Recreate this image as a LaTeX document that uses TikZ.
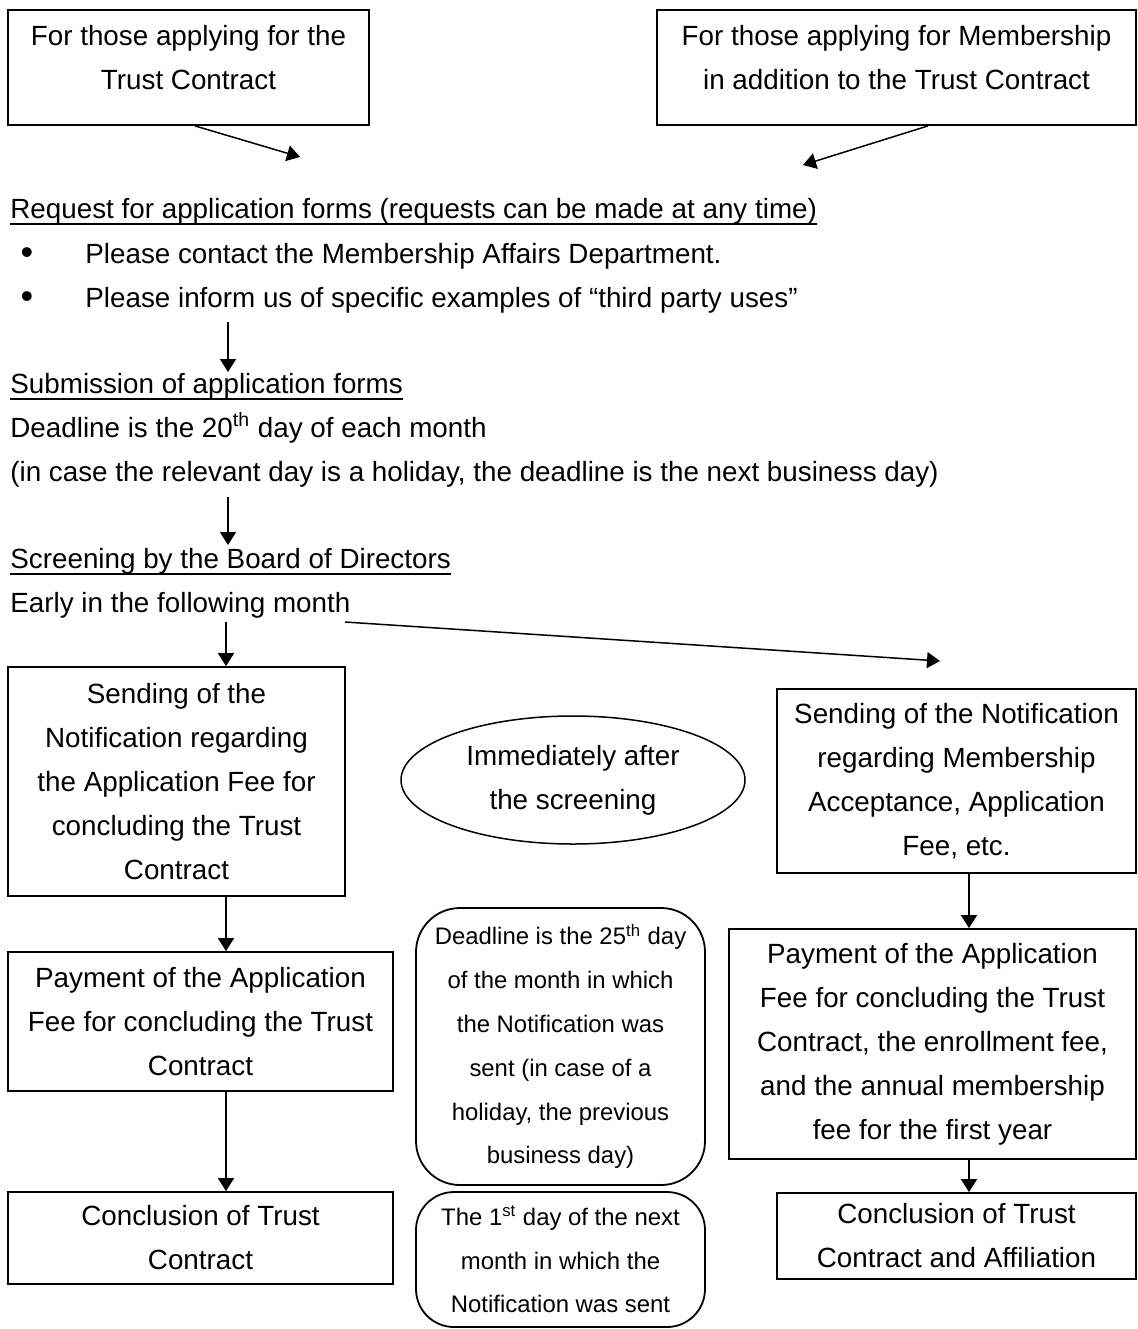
\documentclass[tikz,border=0pt]{standalone}
\usepackage{fontspec}
\setmainfont{Liberation Sans}
\usetikzlibrary{arrows.meta,shapes.geometric}
\newcommand\ulx[1]{\setbox0\hbox{#1}\rlap{\rule[-3.4pt]{\wd0}{1pt}}\box0}
\tikzset{
  basefont/.style={font=\fontsize{13.9pt}{22pt}\selectfont, inner sep=0pt},
  box/.style={basefont, draw, line width=0.9pt, align=center},
  rbox/.style={draw, line width=0.9pt, align=center, inner sep=0pt,
    font=\fontsize{11.95pt}{21.9pt}\selectfont},
  txt/.style={basefont, anchor=base west},
  bul/.style={font=\fontsize{18pt}{22pt}\selectfont, inner sep=0pt, anchor=base},
  arr/.style={line width=0.75pt, -{Triangle[length=6.5pt,width=8pt]}},
}
\begin{document}
\begin{tikzpicture}[x=0.5pt,y=-0.5pt]
\fill[white] (0,0) rectangle (1137,1329);
\useasboundingbox (0,0) rectangle (1137,1329);

% top boxes
\node[box, minimum width=180.5pt, minimum height=57.5pt] (tl) at (188.5,67.5) {};
\node[basefont, align=center] (tlt) at (188.5,58) {For those applying for the\\Trust Contract};
\node[box, minimum width=239.5pt, minimum height=57.5pt] (tr) at (896.5,67.5) {};
\node[basefont, align=center] (trt) at (896.5,58) {For those applying for Membership\\in addition to the Trust Contract};
\coordinate (tlEnd) at (300,157);
\coordinate (trEnd) at (803,165);
\draw[arr] ([xshift=3.25pt]tl.south) -- (tlEnd);
\draw[arr] ([xshift=15.75pt]tr.south) -- (trEnd);

% request
\node[txt] (req) at (10,218) {\ulx{Request for application forms (requests can be made at any time)}};
\node[bul] (b1) at (27,264) {\textbullet};
\node[txt] (p1) at (85,263) {Please contact the Membership Affairs Department.};
\node[bul] (b2) at (27,308) {\textbullet};
\node[txt] (p2) at (85,307) {Please inform us of specific examples of “third party uses”};
\coordinate (a1s) at (228,322);
\coordinate (a1e) at (228,372);
\draw[arr] (a1s) -- (a1e);

% submission
\node[txt] (sub) at (10,393) {\ulx{Submission of application forms}};
\node[txt] (dl) at (10,437) {Deadline is the 20\textsuperscript{th} day of each month};
\node[txt] (hol) at (10,481) {(in case the relevant day is a holiday, the deadline is the next business day)};
\coordinate (a2s) at (228,497);
\coordinate (a2e) at (228,545);
\draw[arr] (a2s) -- (a2e);

% screening
\node[txt] (scr) at (10,568) {\ulx{Screening by the Board of Directors}};
\node[txt] (early) at (10,612) {Early in the following month};

% left column
\coordinate (colL) at (226,0);
\coordinate (colR) at (969,0);
\node[box, minimum width=168.5pt, minimum height=114.5pt] (lb1) at (176.5,781.5)
  {Sending of the\\Notification regarding\\the Application Fee for\\concluding the Trust\\Contract};
\node[box, minimum width=192.5pt, minimum height=69.5pt] (lb2) at (200.5,1021.5)
  {Payment of the Application\\Fee for concluding the Trust\\Contract};
\node[box, minimum width=192.5pt, minimum height=46pt] (lb3) at (200.5,1238)
  {Conclusion of Trust\\Contract};

% middle
\node[basefont, draw, line width=0.75pt, ellipse, minimum width=172pt, minimum height=64pt, align=center] (el) at (573,780)
  {Immediately after\\the screening};
\node[rbox, rounded corners=22pt, minimum width=144.5pt, minimum height=138.5pt] (rr1) at (560.5,1046.5)
  {Deadline is the 25\textsuperscript{th} day\\of the month in which\\the Notification was\\sent (in case of a\\holiday, the previous\\business day)};
\node[rbox, rounded corners=19pt, minimum width=144.5pt, minimum height=67.5pt] (rr2) at (560.5,1259.5)
  {The 1\textsuperscript{st} day of the next\\month in which the\\Notification was sent};

% right column
\node[box, minimum width=179.5pt, minimum height=92pt] (rb1) at (956.5,781)
  {Sending of the Notification\\regarding Membership\\Acceptance, Application\\Fee, etc.};
\node[box, minimum width=203.5pt, minimum height=115pt] (rb2) at (932.5,1044)
  {Payment of the Application\\Fee for concluding the Trust\\Contract, the enrollment fee,\\and the annual membership\\fee for the first year};
\node[box, minimum width=179.5pt, minimum height=43pt] (rb3) at (956.5,1236)
  {Conclusion of Trust\\Contract and Affiliation};

% connectors
\coordinate (a3s) at (226,622);
\draw[arr] (a3s) -- (lb1.north -| colL);
\coordinate (a4s) at (345,622);
\coordinate (a4e) at (940,661);
\draw[arr] (a4s) -- (a4e);
\draw[arr] (lb1.south -| colL) -- (lb2.north -| colL);
\draw[arr] (lb2.south -| colL) -- (lb3.north -| colL);
\draw[arr] (rb1.south -| colR) -- (rb2.north -| colR);
\draw[arr] (rb2.south -| colR) -- (rb3.north -| colR);
\end{tikzpicture}
\end{document}
